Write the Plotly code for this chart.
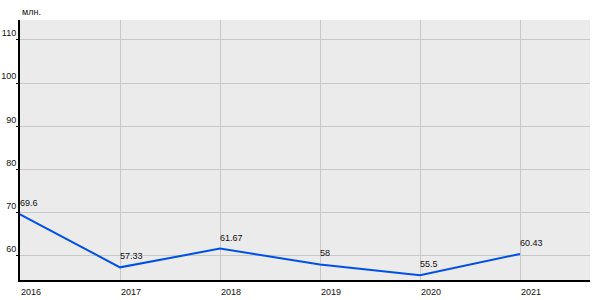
import plotly.graph_objects as go

years = [2016, 2017, 2018, 2019, 2020, 2021]
values = [69.6, 57.33, 61.67, 58, 55.5, 60.43]
labels = ["69.6", "57.33", "61.67", "58", "55.5", "60.43"]
y_ticks = [60, 70, 80, 90, 100, 110]
unit_label = "млн."

FONT = "Liberation Sans, Arial"

fig = go.Figure()
fig.add_trace(go.Scatter(
    x=years, y=values, mode="lines",
    line=dict(color="#0050e6", width=2),
    hoverinfo="skip",
))
for x, y, t in zip(years, values, labels):
    fig.add_annotation(
        x=x, y=y, text=t, showarrow=False,
        xanchor="left", yanchor="bottom", xshift=-2, yshift=4,
        font=dict(family=FONT, size=9, color="#111111"),
    )

fig.update_layout(
    width=600, height=300,
    margin=dict(l=20, r=10, t=20, b=20, autoexpand=False),
    paper_bgcolor="white",
    plot_bgcolor="#ebebeb",
    showlegend=False,
    font=dict(family=FONT, size=9, color="#111111"),
)
fig.update_xaxes(
    range=[2016, 2021.7], automargin=False,
    tickvals=years, ticktext=[str(y) for y in years],
    ticklabelposition="outside right", ticklabelstandoff=2,
    showgrid=True, gridcolor="#c8c8c8", gridwidth=1,
    showline=True, linecolor="black", linewidth=2,
    zeroline=False, ticks="",
)
fig.update_yaxes(
    range=[54.4, 114.6], automargin=False,
    tickvals=y_ticks,
    ticklabelposition="outside top",
    showgrid=True, gridcolor="#c8c8c8", gridwidth=1,
    showline=True, linecolor="black", linewidth=2,
    zeroline=False, ticks="outside", ticklen=2, tickcolor="black",
)
fig.add_annotation(
    x=0, xref="paper", y=1, yref="paper", yshift=1,
    text=unit_label, showarrow=False,
    xanchor="left", yanchor="bottom",
    font=dict(family=FONT, size=9, color="#111111"),
)
fig.write_html("out.html")
